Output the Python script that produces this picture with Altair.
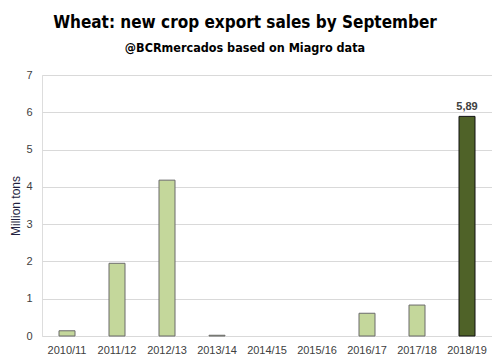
import altair as alt
import pandas as pd

seasons = ["2010/11", "2011/12", "2012/13", "2013/14", "2014/15", "2015/16", "2016/17", "2017/18", "2018/19"]
sales = [0.14, 1.95, 4.18, 0.02, 0.0, 0.0, 0.61, 0.83, 5.89]
labels = ["", "", "", "", "", "", "", "", "5,89"]
highlight = ["past", "past", "past", "past", "past", "past", "past", "past", "current"]

df = pd.DataFrame({"season": seasons, "sales": sales, "label": labels, "kind": highlight})

x = alt.X("season:N", sort=seasons, title=None,
          scale=alt.Scale(paddingInner=0.68, paddingOuter=0.34),
          axis=alt.Axis(labelAngle=0, ticks=False, domain=False, labelFontSize=11,
                        labelColor="#404040", labelFont="Liberation Sans", labelPadding=8))
y = alt.Y("sales:Q", title="Million tons",
          scale=alt.Scale(domain=[0, 7], nice=False),
          axis=alt.Axis(values=[0, 1, 2, 3, 4, 5, 6, 7], ticks=False, domain=False,
                        gridColor="#d9d9d9", labelFontSize=11, labelColor="#404040",
                        labelFont="Liberation Sans", labelPadding=10, labelOverlap=False,
                        titleFont="Liberation Sans", titleFontSize=12, titleFontWeight="normal",
                        titleColor="#1f1f3f", titlePadding=3))

base = alt.Chart(df).encode(x=x, y=y)

bars = base.mark_bar(strokeWidth=1).encode(
    fill=alt.Fill("kind:N", scale=alt.Scale(domain=["past", "current"], range=["#c4d79b", "#4f6228"]), legend=None),
    stroke=alt.Stroke("kind:N", scale=alt.Scale(domain=["past", "current"], range=["#6b6b6b", "#111111"]), legend=None),
).transform_filter("datum.sales > 0")

text = base.mark_text(dy=-9, fontSize=11, fontWeight="bold", color="#404040",
                      font="Liberation Sans").encode(text="label:N")

chart = (bars + text).properties(
    width=450, height=261,
    padding={"left": 34, "top": 67, "right": 0, "bottom": 19},
    autosize=alt.AutoSizeParams(type="none"),
    title=alt.TitleParams(
        "Wheat: new crop export sales by September",
        subtitle="@BCRmercados based on Miagro data",
        anchor="middle", dx=-22, offset=14,
        font="DejaVu Sans Condensed", fontSize=17, fontWeight="bold", color="#000000",
        subtitleFont="DejaVu Sans Condensed", subtitleFontSize=12.5, subtitleFontWeight="bold",
        subtitleColor="#000000", subtitlePadding=10),
).configure_view(stroke=None).configure(background="white")

chart.save("out.html", embed_options={"renderer": "svg", "actions": False})
